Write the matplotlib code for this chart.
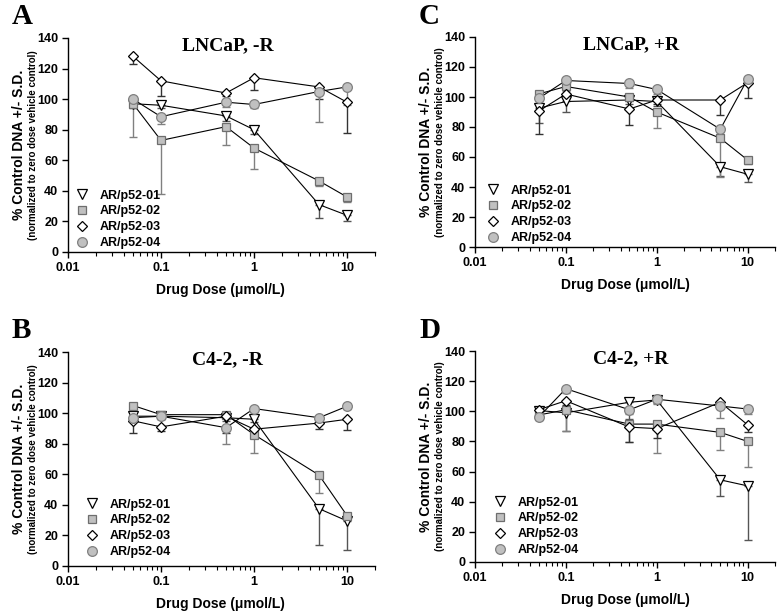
import matplotlib
matplotlib.use("Agg")
import matplotlib.pyplot as plt
from matplotlib.lines import Line2D
import numpy as np

doses = [0.05, 0.1, 0.5, 1, 5, 10]
series_names = ["AR/p52-01", "AR/p52-02", "AR/p52-03", "AR/p52-04"]

# Panel A: LNCaP, -R
a01 = [97, 96, 89, 80, 31, 24];          a01e = [3, 2, 3, 3, 9, 3.5]
a02 = [97, 73, 82, 68, 46.5, 36];        a02e = [22, 35, 12, 14, 3, 3]
a03 = [128, 112, 104, 114, 108, 98];     a03e = [5, 10, 2, 8, 8, 20]
a04 = [100, 88.5, 98, 96.5, 105, 108];   a04e = [3, 5, 3, 2, 20, 12]
# Panel B: C4-2, -R
b01 = [98, 98, 97, 96, 37.5, 29.5];      b01e = [3, 2, 2, 2, 24, 19]
b02 = [105, 99, 99, 86, 59.5, 33];       b02e = [2, 2, 2, 12, 12, 3]
b03 = [95, 91, 98, 89.5, 93.5, 96];      b03e = [8, 2.5, 11, 3, 4, 7]
b04 = [97, 98, 90.5, 103, 97, 104.5];    b04e = [2, 2, 11, 2, 2, 2]
# Panel C: LNCaP, +R
c01 = [92.5, 97, 98, 97, 53.5, 48.5];    c01e = [10, 7, 3, 3, 6, 5]
c02 = [102, 107, 100, 90, 72.5, 58];     c02e = [3, 3, 3, 11, 26, 3]
c03 = [90.5, 102, 92, 98, 98, 109.5];    c03e = [15, 3, 11, 3, 10, 10]
c04 = [99, 111, 109, 105, 78.5, 112];    c04e = [3, 3, 3, 3, 3, 3]
# Panel D: C4-2, +R
d01 = [100.5, 99, 106, 107.5, 54.5, 50.5]; d01e = [2, 12, 11, 2, 11, 36]
d02 = [97.5, 101, 91.5, 91.5, 86, 80];     d02e = [2, 14, 12, 19, 12, 17]
d03 = [101, 107, 89.5, 88.5, 106, 91];     d03e = [2, 3, 10, 6, 3, 5]
d04 = [96, 115, 101, 108, 103.5, 101.5];   d04e = [2, 3, 3, 3, 8, 3]

yticks = [0, 20, 40, 60, 80, 100, 120, 140]
xticks = [0.01, 0.1, 1, 10]
xticklabels = ["0.01", "0.1", "1", "10"]

SANS = "Liberation Sans"
SERIF = "Liberation Serif"

styles = [
    dict(marker="v", ms=7, mfc="white", mec="black", ecol="#555555"),
    dict(marker="s", ms=6, mfc="#c0c0c0", mec="#6e6e6e", ecol="#808080"),
    dict(marker="D", ms=5.5, mfc="white", mec="black", ecol="#333333"),
    dict(marker="o", ms=7, mfc="#c0c0c0", mec="#808080", ecol="#808080"),
]

W, H = 783, 615
fig = plt.figure(figsize=(W / 100, H / 100), dpi=100)

def add_axes(left, right, top, bottom):
    return fig.add_axes([left / W, 1 - bottom / H, (right - left) / W, (bottom - top) / H])

panels = [
    dict(box=(68, 375, 38, 252), letter="A", title="LNCaP, -R", leg=(14, 10),
         data=[(a01, a01e), (a02, a02e), (a03, a03e), (a04, a04e)], xl=220, ylx=19),
    dict(box=(68, 375, 352, 566), letter="B", title="C4-2, -R", leg=(24, 15),
         data=[(b01, b01e), (b02, b02e), (b03, b03e), (b04, b04e)], xl=220, ylx=19),
    dict(box=(475, 775, 37, 247), letter="C", title="LNCaP, +R", leg=(18, 10),
         data=[(c01, c01e), (c02, c02e), (c03, c03e), (c04, c04e)], xl=625, ylx=426),
    dict(box=(475, 775, 351, 562), letter="D", title="C4-2, +R", leg=(25, 13),
         data=[(d01, d01e), (d02, d02e), (d03, d03e), (d04, d04e)], xl=625, ylx=426),
]

FS = 9
for p in panels:
    l, r, t, b = p["box"]
    aw, ah = r - l, b - t
    ax = add_axes(l, r, t, b)
    ax.set_xscale("log")
    ax.set_xlim(0.01, 20)
    ax.set_ylim(0, 140)
    for sp in ("top", "right"):
        ax.spines[sp].set_visible(False)
    for sp in ("left", "bottom"):
        ax.spines[sp].set_linewidth(1.0)
    ax.set_yticks(yticks)
    ax.set_yticklabels([str(v) for v in yticks], fontfamily=SANS, fontweight="bold", fontsize=FS)
    ax.set_xticks(xticks)
    ax.set_xticklabels(xticklabels, fontfamily=SANS, fontweight="bold", fontsize=FS)
    ax.tick_params(axis="both", which="major", direction="out", length=4, width=1, pad=3)
    ax.tick_params(axis="x", which="minor", direction="out", length=3, width=0.8)

    handles = []
    for (vals, errs), st in zip(p["data"], styles):
        zeros = [0] * len(errs)
        ax.errorbar(doses, vals, yerr=[errs, zeros], fmt="none", ecolor=st["ecol"],
                    elinewidth=1.0, capsize=3, capthick=1.0, zorder=1)
        ax.plot(doses, vals, color="black", lw=0.8, zorder=2)
    for (vals, errs), st, name in zip(p["data"], styles, series_names):
        ax.plot(doses, vals, linestyle="none", marker=st["marker"], ms=st["ms"],
                mfc=st["mfc"], mec=st["mec"], mew=0.9, zorder=3)
        handles.append(Line2D([], [], linestyle="none", marker=st["marker"], ms=st["ms"],
                              mfc=st["mfc"], mec=st["mec"], mew=0.9, label=name))
    fs_px = FS * 100 / 72
    mx, my = p["leg"]
    bx = (mx - 0.5 * fs_px) / aw
    by = (my - 7) / ah
    ax.legend(handles=handles, loc="lower left", frameon=False,
              bbox_to_anchor=(bx, by), handlelength=1.0, handletextpad=0.9,
              labelspacing=0.3, borderaxespad=0, borderpad=0,
              prop=dict(family=SANS, weight="bold", size=FS))

    ax.text(0.52, 1.005, p["title"], transform=ax.transAxes, ha="center", va="top",
            fontfamily=SERIF, fontweight="bold", fontsize=14)

    fig.text(p["ylx"] / W, 1 - ((t + b) / 2) / H, "% Control DNA +/- S.D.",
             rotation=90, ha="center", va="center", fontfamily=SANS,
             fontweight="bold", fontsize=10)
    fig.text((p["ylx"] + 14) / W, 1 - ((t + b) / 2) / H,
             "(normalized to zero dose vehicle control)",
             rotation=90, ha="center", va="center", fontfamily=SANS,
             fontweight="bold", fontsize=7)
    fig.text(p["xl"] / W, 1 - (b + 38) / H, "Drug Dose (\u03bcmol/L)",
             ha="center", va="center", fontfamily=SANS, fontweight="bold", fontsize=10)
    fig.text((p["ylx"] - 7) / W, 1 - (t - 21) / H, p["letter"], ha="left", va="center",
             fontfamily=SERIF, fontweight="bold", fontsize=21)

fig.savefig("out.png", dpi=100)
